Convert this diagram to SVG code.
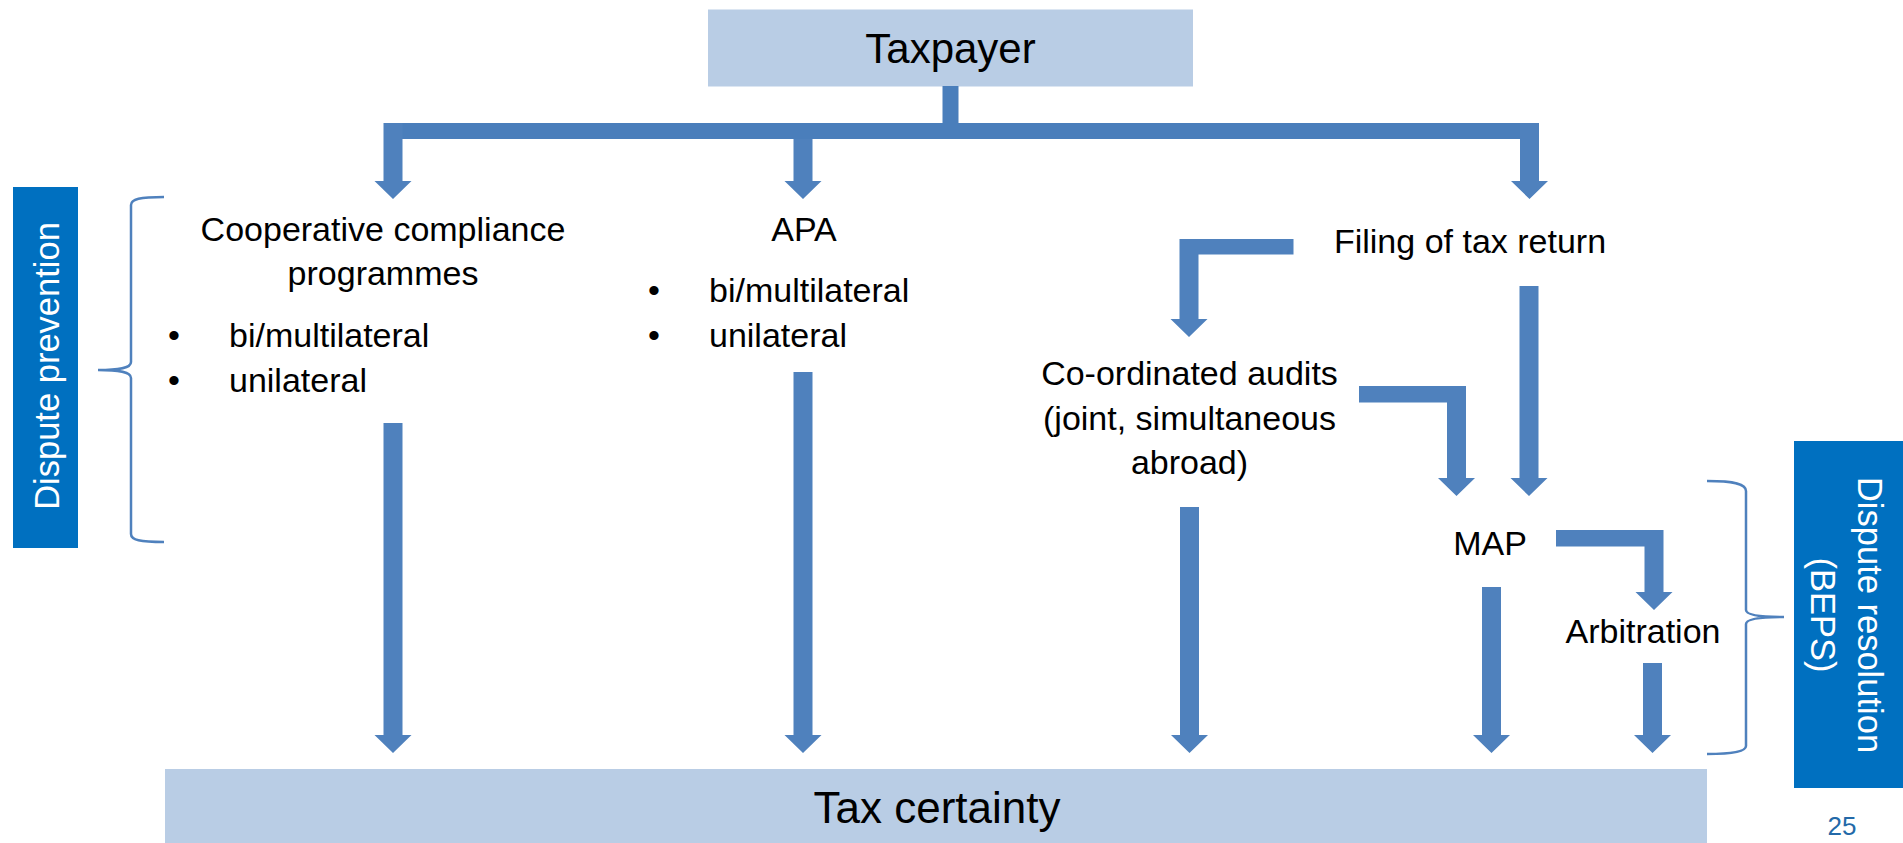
<svg xmlns="http://www.w3.org/2000/svg" width="1903" height="843" viewBox="0 0 1903 843">
<style>
.t{font-family:"Liberation Sans",Arial,sans-serif;fill:#000;font-size:34px}
.c{text-anchor:middle}
.big{font-size:42px}
.big2{font-size:44px}
.box{fill:#B9CDE5}
.side{fill:#0070C0}
.wt{font-family:"Liberation Sans",Arial,sans-serif;fill:#fff;font-size:34.5px;text-anchor:middle}
.arr{fill:#4F81BD}
.bar{fill:#4A7EBB}
.brace{fill:none;stroke:#4F81BD;stroke-width:2.5}
</style>
<rect width="1903" height="843" fill="#fff"/>
<g id="taxpayer"><rect class="box" x="708" y="9.5" width="485" height="77"/><text class="t c big" x="950.5" y="63">Taxpayer</text></g>
<g id="tax-certainty"><rect class="box" x="165" y="769" width="1542" height="74"/><text class="t c big2" x="937" y="823">Tax certainty</text></g>
<g id="dispute-prevention"><rect class="side" x="13" y="187" width="65" height="361"/><text class="wt" transform="translate(59,366) rotate(-90)">Dispute prevention</text></g>
<g id="dispute-resolution"><rect class="side" x="1794" y="441" width="109" height="347"/><text class="wt" transform="translate(1858,615) rotate(90)"><tspan x="0" y="0">Dispute resolution</tspan><tspan x="0" y="47">(BEPS)</tspan></text></g>
<g id="braces"><path class="brace" d="M164,197 C140,197 131,199 131,205 V362 C131,368 120,370 98,370 C120,370 131,372 131,378 V534 C131,540 140,542 164,542"/><path class="brace" d="M1707,481 C1735,481 1746,484 1746,491 V610 C1746,615 1760,617 1784,617 C1760,617 1746,619 1746,624 V746 C1746,751 1735,754 1707,754"/></g>
<g id="cooperative"><text class="t c" x="383" y="241">Cooperative compliance</text><text class="t c" x="383" y="285">programmes</text><text class="t c" x="174" y="347">•</text><text class="t" x="229" y="347">bi/multilateral</text><text class="t c" x="174" y="392">•</text><text class="t" x="229" y="392">unilateral</text></g>
<g id="apa"><text class="t c" x="804" y="241">APA</text><text class="t c" x="654" y="302">•</text><text class="t" x="709" y="302">bi/multilateral</text><text class="t c" x="654" y="347">•</text><text class="t" x="709" y="347">unilateral</text></g>
<g id="filing"><text class="t c" x="1470" y="253">Filing of tax return</text></g>
<g id="audits"><text class="t c" x="1189.5" y="385">Co-ordinated audits</text><text class="t c" x="1189.5" y="430">(joint, simultaneous</text><text class="t c" x="1189.5" y="473.5">abroad)</text></g>
<g id="map"><text class="t c" x="1490" y="555">MAP</text></g>
<g id="arbitration"><text class="t c" x="1643" y="643">Arbitration</text></g>
<text x="1842" y="835" font-family="Liberation Sans,Arial,sans-serif" font-size="26" fill="#2369A8" text-anchor="middle">25</text>
<g id="connectors">
<rect class="bar" x="942.5" y="86" width="16" height="38"/>
<rect class="bar" x="391" y="123" width="1142" height="16"/>
<path class="arr" d="M383.5,123 V181 H374.5 L393,199 L411.5,181 H402.5 V123 Z"/>
<path class="arr" d="M793.5,139 V181 H784.5 L803,199 L821.5,181 H812.5 V139 Z"/>
<path class="arr" d="M1520,123 V181 H1511 L1529.5,199 L1548,181 H1539 V123 Z"/>
<path class="arr" d="M383.5,423 V735 H374.5 L393,753 L411.5,735 H402.5 V423 Z"/>
<path class="arr" d="M793.5,372 V735 H784.5 L803,753 L821.5,735 H812.5 V372 Z"/>
<path class="arr" d="M1180,507 V735 H1171 L1189.5,753 L1208,735 H1199 V507 Z"/>
<path class="arr" d="M1482,587 V735 H1473 L1491.5,753 L1510,735 H1501 V587 Z"/>
<path class="arr" d="M1643,663 V735 H1634 L1652.5,753 L1671,735 H1662 V663 Z"/>
<path class="arr" d="M1519.5,286 V478 H1510.5 L1529,496 L1547.5,478 H1538.5 V286 Z"/>
<path class="arr" d="M1293.5,239 H1179.5 V319 H1170.5 L1189,337 L1207.5,319 H1198.5 V254.5 H1293.5 Z"/>
<path class="arr" d="M1359,386 H1466 V478 H1475 L1456.5,496 L1438,478 H1447 V402.5 H1359 Z"/>
<path class="arr" d="M1556,530 H1663.5 V592 H1672.5 L1654,610 L1635.5,592 H1644.5 V546.5 H1556 Z"/>
</g>
</svg>
